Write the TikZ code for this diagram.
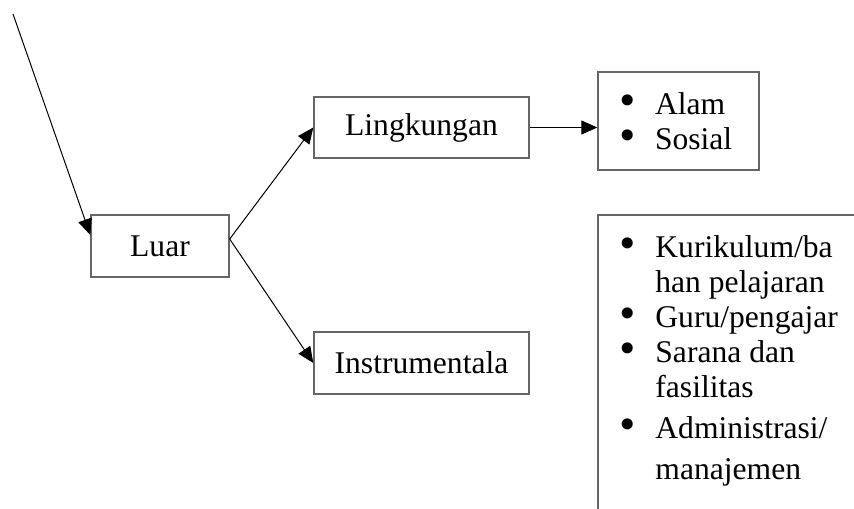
\documentclass[tikz,border=0pt]{standalone}
\usepackage{fontspec}
\setmainfont{Liberation Serif}
\newfontfamily\bulfont{DejaVu Sans}
\usepackage{tikz}
\usetikzlibrary{arrows.meta, calc, positioning}

\newcommand{\itm}[1]{\makebox[19pt][l]{\hspace*{-0.5pt}{\bulfont\fontsize{19}{17.5}\selectfont •}}#1}
\newcommand{\cnt}[1]{\hspace*{19pt}#1}

\tikzset{
  box/.style={draw=black!60, line width=0.7pt, inner sep=0pt, font=\fontsize{15.8}{17.5}\selectfont},
  listtext/.style={inner sep=0pt, align=left, font=\fontsize{15.8}{17.5}\selectfont},
  link/.style={-{Triangle[length=8pt,width=7pt]}, line width=0.5pt},
}

\begin{document}
\begin{tikzpicture}[x=0.5pt, y=-0.5pt]
  \useasboundingbox (0,0) rectangle (854,508);
  \clip (0,0) rectangle (854,508);

  % Boxes
  \node[box, minimum width=69pt, minimum height=31pt] (luar) at (160,246) {Luar};
  \node[box, minimum width=107.5pt, minimum height=30.5pt] (lingk) at (421.5,127.5) {Lingkungan};
  \node[box, minimum width=107.5pt, minimum height=31pt] (instr) at (421.5,363) {Instrumentala};
  \node[box, minimum width=80.5pt, minimum height=49pt, inner xsep=9.5pt, text width=61.5pt, align=left] (alam) at (678.5,121)
    {\itm{Alam}\\ \itm{Sosial}};

  % Open frame with the list
  \draw[draw=black!60, line width=0.7pt] (598,520) |- (870,215);
  \node[listtext, anchor=north west] (faktor) at (617,235)
    {\itm{Kurikulum/ba}\\ \cnt{han pelajaran}\\ \itm{Guru/pengajar}\\ \itm{Sarana dan}\\ \cnt{fasilitas}\\[3pt]
     \itm{Administrasi/}\\[3pt] \cnt{manajemen}};

  % Connectors
  \coordinate (start) at (13,14);
  \coordinate (fork) at ([yshift=3.5pt]luar.east);
  \draw[link] (start) -- ([yshift=5.5pt]luar.west);
  \draw[link] (fork) -- (lingk.west);
  \draw[link] (fork) -- (instr.west);
  \draw[link] (lingk.east) -- (lingk.east -| alam.west);
\end{tikzpicture}
\end{document}
